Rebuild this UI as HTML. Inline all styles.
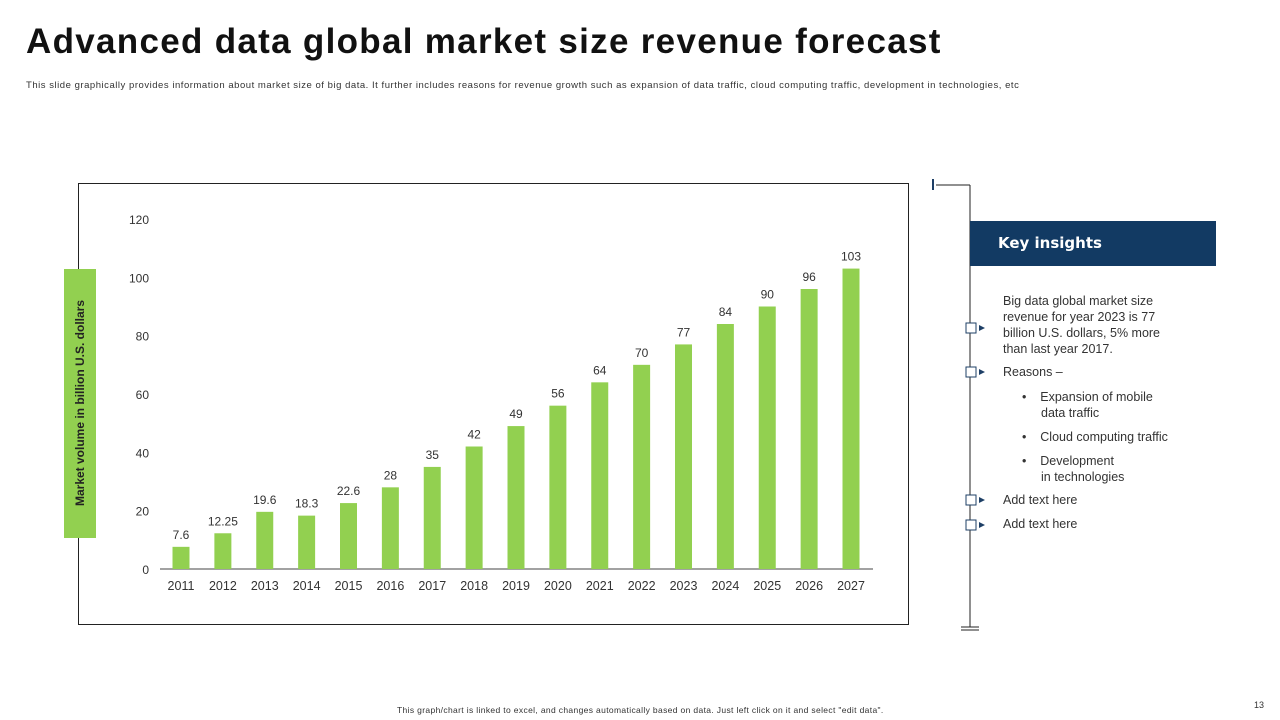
<!DOCTYPE html>
<html><head><meta charset="utf-8"><style>
body{margin:0;width:1280px;height:720px;background:#fff;position:relative;overflow:hidden;font-family:"Liberation Sans",sans-serif}
.abs{position:absolute}
</style></head><body>
<div class="abs" style="left:26px;top:22px;font-size:35px;font-weight:bold;color:#111;letter-spacing:1.3px;white-space:nowrap">Advanced data global market size revenue forecast</div>
<div class="abs" style="left:26px;top:80px;font-size:9.5px;color:#333;letter-spacing:0.53px;white-space:nowrap">This slide graphically provides information about market size of big data. It further includes reasons for revenue growth such as expansion of data traffic, cloud computing traffic, development in technologies, etc</div>
<div class="abs" style="left:78px;top:183px;width:829px;height:440px;border:1px solid #222"></div>
<div class="abs" style="left:64px;top:269px;width:32px;height:269px;background:#92d050"></div>
<div class="abs" style="left:80px;top:403px;transform:translate(-50%,-50%) rotate(-90deg);font-size:12px;font-weight:bold;color:#222;white-space:nowrap">Market volume in billion U.S. dollars</div>
<svg class="abs" style="left:0;top:0" width="1280" height="720" id="chart"></svg>
<svg class="abs" style="left:0;top:0" width="1280" height="720">
<line x1="933" y1="179" x2="933" y2="190" stroke="#1e3f66" stroke-width="2"/>
<line x1="936" y1="185" x2="970" y2="185" stroke="#222" stroke-width="1"/>
<line x1="970" y1="185" x2="970" y2="627" stroke="#222" stroke-width="1"/>
<line x1="961" y1="627" x2="979" y2="627" stroke="#222"/><line x1="961" y1="630" x2="979" y2="630" stroke="#222"/>
<g fill="#fff" stroke="#1e3f66"><rect x="966" y="323" width="10" height="10"/><rect x="966" y="367" width="10" height="10"/><rect x="966" y="495" width="10" height="10"/><rect x="966" y="520" width="10" height="10"/></g>
<g fill="#1e3f66"><path d="M979 325l6 3-6 3z"/><path d="M979 369l6 3-6 3z"/><path d="M979 497l6 3-6 3z"/><path d="M979 522l6 3-6 3z"/></g>
</svg>
<div class="abs" style="left:970px;top:221px;width:246px;height:45px;background:#123a63;color:#fff;font-weight:bold;font-size:15px;line-height:45px;padding-left:28px;box-sizing:border-box;font-family:'DejaVu Sans',sans-serif">Key insights</div>
<div class="abs" style="left:1003px;top:293px;font-size:12.5px;color:#333;line-height:16px;width:180px">Big data global market size revenue for year 2023 is 77 billion U.S. dollars, 5% more than last year 2017.</div>
<div class="abs" style="left:1003px;top:365px;font-size:12.5px;color:#333">Reasons –</div>
<div class="abs" style="left:1022px;top:389px;font-size:12.5px;color:#333;line-height:16px">
<div style="position:absolute;top:0;white-space:nowrap">•&nbsp;&nbsp;&nbsp;&nbsp;Expansion of mobile</div>
<div style="position:absolute;top:16px;left:19px;white-space:nowrap">data traffic</div>
<div style="position:absolute;top:40px;white-space:nowrap">•&nbsp;&nbsp;&nbsp;&nbsp;Cloud computing traffic</div>
<div style="position:absolute;top:64px;white-space:nowrap">•&nbsp;&nbsp;&nbsp;&nbsp;Development</div>
<div style="position:absolute;top:80px;left:19px;white-space:nowrap">in technologies</div>
</div>
<div class="abs" style="left:1003px;top:493px;font-size:12.5px;color:#333">Add text here</div>
<div class="abs" style="left:1003px;top:517px;font-size:12.5px;color:#333">Add text here</div>
<div class="abs" style="left:397px;top:705px;font-size:8.5px;color:#333;letter-spacing:0.35px;white-space:nowrap">This graph/chart is linked to excel, and changes automatically based on data. Just left click on it and select "edit data".</div>
<div class="abs" style="left:1254px;top:700px;font-size:9px;color:#333">13</div>
<script>
const categories=["2011","2012","2013","2014","2015","2016","2017","2018","2019","2020","2021","2022","2023","2024","2025","2026","2027"];
const values=[7.6,12.25,19.6,18.3,22.6,28,35,42,49,56,64,70,77,84,90,96,103];
const labels=["7.6","12.25","19.6","18.3","22.6","28","35","42","49","56","64","70","77","84","90","96","103"];
const yTicks=[0,20,40,60,80,100,120];
const svg=document.getElementById('chart');const NS='http://www.w3.org/2000/svg';
const y=v=>569-v*(350/120);
const x=i=>181+i*(670/16);
function mk(t,a){const e=document.createElementNS(NS,t);for(const k in a)e.setAttribute(k,a[k]);svg.appendChild(e);return e;}
yTicks.forEach(t=>{const e=mk('text',{x:149,y:y(t)+5,'text-anchor':'end','font-size':12,fill:'#333'});e.textContent=t;

});
const ax=mk('line',{x1:160,x2:873,y1:569,y2:569,stroke:'#444','stroke-width':1});


categories.forEach((c,i)=>{
const r=mk('rect',{x:x(i)-8.5,y:y(values[i]),width:17,height:569-y(values[i]),fill:'#92d050'});


const l=mk('text',{x:x(i),y:y(values[i])-8,'text-anchor':'middle','font-size':12,fill:'#333'});l.textContent=labels[i];


const t=mk('text',{x:x(i),y:590,'text-anchor':'middle','font-size':12.5,fill:'#333'});t.textContent=c;


});
</script>
</body></html>
